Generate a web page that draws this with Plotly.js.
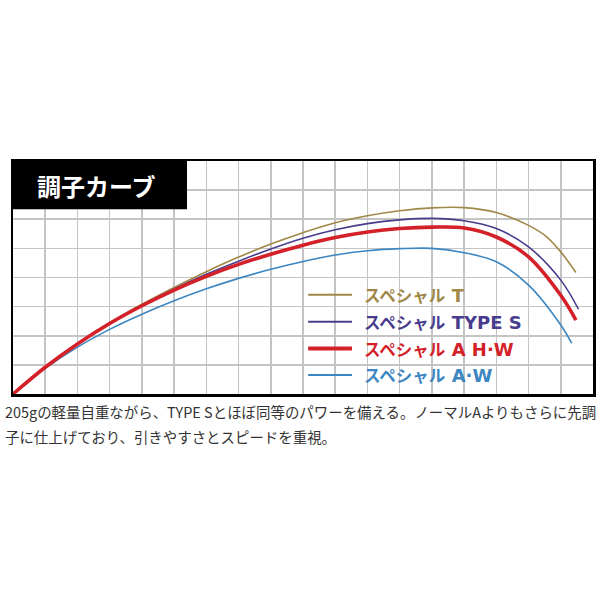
<!DOCTYPE html>
<html><head><meta charset="utf-8">
<script src="https://cdn.plot.ly/plotly-3.0.1.min.js"></script>
<style>html,body{margin:0;padding:0;background:#fff;}#chart{width:600px;height:600px;}</style>
</head><body><div id="chart"></div>
<script>
const chartTitle = "調子カーブ";
const seriesKana = ["スペシャル", "スペシャル", "スペシャル", "スペシャル"];
const seriesLatin = ["T", "TYPE S", "A H·W", "A·W"];
const seriesColors = ["#a08848", "#483c8c", "#d42028", "#3c86c2"];
const seriesWidths = [1.6, 1.6, 3.6, 1.6];

const xT = [0, 1, 2, 3, 4, 5, 6, 7, 8, 9, 10, 11, 12, 13, 14, 15, 16, 16.57, 17, 17.47];
const yT = [0, 0.93, 1.73, 2.45, 3.08, 3.66, 4.2, 4.7, 5.15, 5.54, 5.88, 6.12, 6.29, 6.39, 6.40, 6.23, 5.79, 5.39, 4.88, 4.17];

const xS = [0, 1, 2, 3, 4, 5, 6, 7, 8, 9, 10, 11, 12, 13, 14, 15, 16, 17, 17.55];
const yS = [0, 0.93, 1.72, 2.43, 3.05, 3.61, 4.11, 4.56, 4.98, 5.35, 5.64, 5.85, 5.98, 6.03, 5.95, 5.68, 5.05, 3.91, 2.91];

const xAHW = [0, 1, 2, 3, 4, 5, 6, 7, 8, 9, 10, 11, 12, 13, 14, 15, 16, 17, 17.47];
const yAHW = [0, 0.92, 1.72, 2.42, 3.03, 3.57, 4.04, 4.45, 4.8, 5.11, 5.37, 5.56, 5.68, 5.73, 5.7, 5.39, 4.71, 3.39, 2.54];

const xAW = [0, 1, 2, 3, 4, 5, 6, 7, 8, 9, 10, 11, 12, 13, 14, 15, 16, 17, 17.34];
const yAW = [0, 0.88, 1.61, 2.22, 2.74, 3.2, 3.61, 3.97, 4.28, 4.55, 4.77, 4.92, 4.99, 5.0, 4.85, 4.54, 3.74, 2.37, 1.74];

const captionLines = [
  "205gの軽量自重ながら、TYPE Sとほぼ同等のパワーを備える。ノーマルAよりもさらに先調",
  "子に仕上げており、引きやすさとスピードを重視。"
];

const xs = [xT, xS, xAHW, xAW];
const ys = [yT, yS, yAHW, yAW];
const drawOrder = [3, 0, 1, 2];
const traces = drawOrder.map(i => ({
  x: xs[i], y: ys[i], type: 'scatter', mode: 'lines', name: seriesKana[i] + ' ' + seriesLatin[i],
  line: {color: seriesColors[i], width: seriesWidths[i], shape: 'spline', smoothing: 1.0},
  hoverinfo: 'skip', showlegend: false
}));

const jp = '"Noto Sans CJK JP", "Noto Sans", sans-serif';
const legFont = '"DejaVu Sans", "Noto Sans CJK JP", sans-serif';
const legY = [3.41, 2.48, 1.56, 0.65];
const shapes = [
  {type: 'rect', xref: 'x', yref: 'y', x0: 0, x1: 5.4, y0: 6.34, y1: 8, fillcolor: '#000', line: {width: 0}, layer: 'above'}
];
const annotations = [
  {xref: 'x', yref: 'y', x: 0.68, y: 7.16, xanchor: 'left', yanchor: 'middle', showarrow: false,
   text: '<b>' + chartTitle + '</b>', font: {family: jp, size: 24, color: '#fff'}}
];
seriesLatin.forEach((n, i) => {
  shapes.push({type: 'line', xref: 'x', yref: 'y', x0: 9.16, x1: 10.52, y0: legY[i], y1: legY[i],
    line: {color: seriesColors[i], width: seriesWidths[i] + 0.4}, layer: 'above'});
  annotations.push({xref: 'x', yref: 'y', x: 10.83, y: legY[i], xanchor: 'left', yanchor: 'middle', showarrow: false,
    text: '<b><span style="font-family:Noto Sans CJK JP;font-size:16.5px">' + seriesKana[i] + '</span> ' + n + '</b>',
    font: {family: legFont, size: 18, color: seriesColors[i]}});
});
captionLines.forEach((t, i) => {
  annotations.push({xref: 'paper', yref: 'paper', x: -0.018, y: -0.076 - i * 0.107, xanchor: 'left', yanchor: 'middle',
    showarrow: false, text: t, font: {family: jp, size: 14.45, color: '#333'}});
});

const axisCommon = {showticklabels: false, ticks: '', zeroline: false, showgrid: true,
  gridcolor: '#c4c4c4', gridwidth: 1.6, showline: true, linecolor: '#000', linewidth: 2.5, mirror: true, dtick: 1, tick0: 0, fixedrange: true};

const layout = {
  width: 600, height: 600,
  margin: {l: 13, r: 7, t: 161, b: 206, pad: 0},
  paper_bgcolor: '#fff', plot_bgcolor: '#fff',
  xaxis: Object.assign({range: [0, 18]}, axisCommon),
  yaxis: Object.assign({range: [0, 8]}, axisCommon),
  shapes: shapes, annotations: annotations, showlegend: false
};
Plotly.newPlot('chart', traces, layout, {displayModeBar: false, staticPlot: true});
</script></body></html>
